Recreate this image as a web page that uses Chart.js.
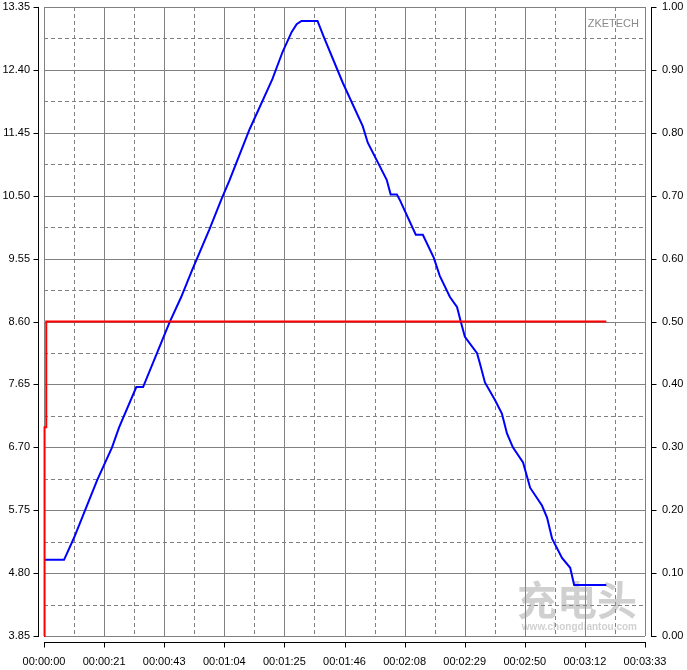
<!DOCTYPE html>
<html>
<head>
<meta charset="utf-8">
<script src="https://cdn.jsdelivr.net/npm/chart.js@4/dist/chart.umd.min.js"></script>
<style>
  html, body { margin: 0; padding: 0; background: #fff; }
</style>
</head>
<body>
<canvas id="graph" width="687" height="670"></canvas>
<script>
var totalSeconds = 212.9;
var timeLabels = ["00:00:00", "00:00:21", "00:00:43", "00:01:04", "00:01:25", "00:01:46",
                  "00:02:08", "00:02:29", "00:02:50", "00:03:12", "00:03:33"];
var voltTicks = [3.85, 4.80, 5.75, 6.70, 7.65, 8.60, 9.55, 10.50, 11.45, 12.40, 13.35];
var currTicks = [0, 0.1, 0.2, 0.3, 0.4, 0.5, 0.6, 0.7, 0.8, 0.9, 1.0];

// voltage (left axis), seconds
var voltTimes = [0, 7.1, 10.6, 18.8, 24.1, 26.6, 32.7, 35.1, 41.9, 44.4, 48.6, 52.5, 58.6, 62.8,
                 65.7, 72.8, 80.9, 84.5, 87.7, 89.5, 91.2, 96.9, 99.0, 105.8, 112.9, 114.7, 121.4,
                 122.8, 125.0, 126.0, 131.7, 134.2, 138.1, 140.2, 143.8, 146.3, 147.7, 149.1, 153.4,
                 154.4, 156.2, 159.8, 162.2, 164.0, 166.1, 169.7, 171.5, 172.2, 176.4, 178.2, 180.0,
                 183.5, 186.4, 187.8, 199.2];
var voltValues = [5.00, 5.00, 5.33, 6.20, 6.70, 7.00, 7.61, 7.61, 8.32, 8.58, 8.97, 9.38, 9.99, 10.44,
                  10.73, 11.50, 12.26, 12.67, 12.97, 13.09, 13.14, 13.14, 12.91, 12.21, 11.55, 11.30, 10.74,
                  10.52, 10.52, 10.44, 9.91, 9.91, 9.56, 9.29, 8.97, 8.82, 8.59, 8.37, 8.12,
                  7.97, 7.68, 7.41, 7.21, 6.91, 6.70, 6.47, 6.20, 6.09, 5.82, 5.64, 5.32,
                  5.03, 4.88, 4.62, 4.62];

// current (right axis)
var currTimes = [0, 0, 0.3, 0.3, 0.8, 0.8, 199.2];
var currValues = [0, 0.165, 0.165, 0.332, 0.332, 0.5, 0.5];

function pairs(xs, ys) {
  return xs.map(function (x, i) { return { x: x, y: ys[i] }; });
}

function fixSize(w, h) {
  return function (s) {
    if (w !== null) s.width = w;
    if (h !== null) s.height = h;
    s.paddingTop = 0; s.paddingBottom = 0;
    s.paddingLeft = 0; s.paddingRight = 0;
  };
}

var frame = {
  id: 'frame',
  beforeDatasetsDraw: function (chart) {
    var ctx = chart.ctx, a = chart.chartArea;
    var xs = chart.scales.x, ys = chart.scales.y;
    ctx.save();
    ctx.lineWidth = 1;
    ctx.strokeStyle = '#808080';
    // dashed minor lines
    ctx.setLineDash([4, 3]);
    for (var i = 0; i < timeLabels.length - 1; i++) {
      var px = Math.round(xs.getPixelForValue((i + 0.5) * totalSeconds / 10)) + 0.5;
      ctx.beginPath(); ctx.moveTo(px, a.top); ctx.lineTo(px, a.bottom); ctx.stroke();
    }
    for (var j = 0; j < voltTicks.length - 1; j++) {
      var py = Math.round(ys.getPixelForValue((voltTicks[j] + voltTicks[j + 1]) / 2)) + 0.5;
      ctx.beginPath(); ctx.moveTo(a.left, py); ctx.lineTo(a.right, py); ctx.stroke();
    }
    // solid major lines
    ctx.setLineDash([]);
    for (var k = 0; k < timeLabels.length; k++) {
      var qx = Math.round(xs.getPixelForValue(k * totalSeconds / 10)) + 0.5;
      ctx.beginPath(); ctx.moveTo(qx, a.top); ctx.lineTo(qx, a.bottom); ctx.stroke();
    }
    voltTicks.forEach(function (v) {
      var qy = Math.round(ys.getPixelForValue(v)) + 0.5;
      ctx.beginPath(); ctx.moveTo(a.left, qy); ctx.lineTo(a.right, qy); ctx.stroke();
    });
    // watermarks
    ctx.fillStyle = '#8a8a8a';
    ctx.font = '11px "Liberation Sans"';
    ctx.textAlign = 'right';
    ctx.textBaseline = 'middle';
    ctx.fillText('ZKETECH', a.right - 6, 24);
    ctx.fillStyle = 'rgba(150,150,150,0.45)';
    ctx.font = 'bold 40px "Noto Sans CJK SC"';
    ctx.fillText('充电头', a.right - 8, 600);
    ctx.font = 'bold 10px "Liberation Sans"';
    ctx.fillText('www.chongdiantou.com', a.right - 8, 627);
    ctx.restore();
  },
  afterDraw: function (chart) {
    var ctx = chart.ctx, a = chart.chartArea;
    var xs = chart.scales.x, ys = chart.scales.y;
    ctx.save();
    ctx.strokeStyle = '#000';
    ctx.lineWidth = 1;
    var lx = a.left - 5.5, rx = a.right + 6.5, by = a.bottom + 6.5;
    ctx.beginPath();
    ctx.moveTo(lx, a.top); ctx.lineTo(lx, a.bottom + 1);
    ctx.moveTo(rx, a.top); ctx.lineTo(rx, a.bottom + 1);
    ctx.moveTo(a.left, by); ctx.lineTo(a.right + 1, by);
    voltTicks.forEach(function (v) {
      var py = Math.round(ys.getPixelForValue(v)) + 0.5;
      ctx.moveTo(lx - 5, py); ctx.lineTo(lx, py);
      ctx.moveTo(rx, py); ctx.lineTo(rx + 5, py);
    });
    for (var k = 0; k < timeLabels.length; k++) {
      var qx = Math.round(xs.getPixelForValue(k * totalSeconds / 10)) + 0.5;
      ctx.moveTo(qx, by); ctx.lineTo(qx, by + 5);
    }
    ctx.stroke();
    ctx.restore();
  }
};

Chart.defaults.font.family = '"Liberation Sans", Arial, sans-serif';
Chart.defaults.font.size = 11;
Chart.defaults.color = '#000';

new Chart("graph", {
  type: "line",
  data: {
    datasets: [{
      data: pairs(currTimes, currValues),
      yAxisID: 'y2',
      borderColor: '#ff0000',
      borderWidth: 2,
      pointRadius: 0,
      tension: 0,
      clip: false
    }, {
      data: pairs(voltTimes, voltValues),
      yAxisID: 'y',
      borderColor: '#0000ff',
      borderWidth: 2,
      pointRadius: 0,
      tension: 0
    }]
  },
  options: {
    responsive: false,
    animation: false,
    devicePixelRatio: 1,
    layout: { autoPadding: false, padding: { top: 7, left: 0, right: 0, bottom: 0 } },
    plugins: { legend: { display: false }, tooltip: { enabled: false } },
    scales: {
      x: {
        type: 'linear', position: 'bottom', min: 0, max: totalSeconds,
        afterBuildTicks: function (s) {
          s.ticks = timeLabels.map(function (l, i) { return { value: i * totalSeconds / 10 }; });
        },
        afterFit: fixSize(null, 34),
        ticks: {
          autoSkip: false, maxRotation: 0, padding: 19,
          callback: function (v, i) { return timeLabels[i]; }
        },
        grid: { display: false, drawTicks: false },
        border: { display: false }
      },
      y: {
        position: 'left', min: 3.85, max: 13.35,
        afterBuildTicks: function (s) {
          s.ticks = voltTicks.map(function (v) { return { value: v }; });
        },
        afterFit: fixSize(44, null),
        ticks: { padding: 14, callback: function (v) { return v.toFixed(2); } },
        grid: { display: false, drawTicks: false },
        border: { display: false }
      },
      y2: {
        position: 'right', min: 0, max: 1,
        afterBuildTicks: function (s) {
          s.ticks = currTicks.map(function (v) { return { value: v }; });
        },
        afterFit: fixSize(42, null),
        ticks: { padding: 17, callback: function (v) { return v.toFixed(2); } },
        grid: { display: false, drawTicks: false },
        border: { display: false }
      }
    }
  },
  plugins: [frame]
});
</script>
</body>
</html>
